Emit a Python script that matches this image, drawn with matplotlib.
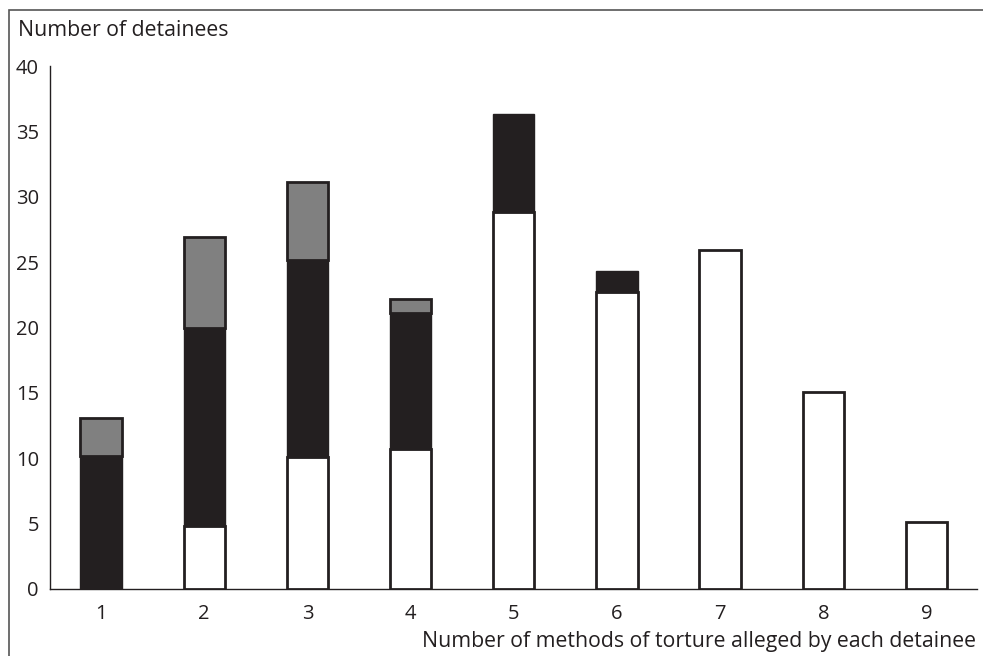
import numpy as np
import matplotlib.pyplot as plt
from matplotlib.patches import Rectangle

plt.rcParams['font.family'] = ['Open Sans', 'DejaVu Sans']

methods = [1, 2, 3, 4, 5, 6, 7, 8, 9]
white = [0, 4.8, 10.1, 10.7, 28.8, 22.7, 25.9, 15.1, 5.1]
black = [10.2, 15.2, 15.1, 10.4, 7.5, 1.6, 0, 0, 0]
gray = [2.9, 6.9, 5.9, 1.1, 0, 0, 0, 0, 0]
yticks = [0, 5, 10, 15, 20, 25, 30, 35, 40]

dark = '#231f20'
W, H = 983, 656
fig = plt.figure(figsize=(W / 100, H / 100), dpi=100)
ax = fig.add_axes([50 / W, 1 - 589 / H, (977 - 50) / W, (589 - 66) / H])

x = np.array(methods)
white = np.array(white)
black = np.array(black)
gray = np.array(gray)
bw = 0.40

m = white > 0
ax.bar(x[m], white[m], width=bw, color='white', edgecolor=dark, linewidth=2, zorder=3)
m = black > 0
ax.bar(x[m], black[m], bottom=white[m], width=bw, color=dark, edgecolor=dark, linewidth=1, zorder=3)
m = gray > 0
ax.bar(x[m], gray[m], bottom=(white + black)[m], width=bw, color='#808080', edgecolor=dark, linewidth=2, zorder=3)

ax.set_xlim(0.505, 9.49)
ax.set_ylim(0, 40)
ax.set_xticks(methods)
ax.set_yticks(yticks)
ax.tick_params(length=0, labelsize=14.5, colors='#231f20')
ax.tick_params(axis='x', pad=11)
ax.tick_params(axis='y', pad=8)
for s in ['top', 'right']:
    ax.spines[s].set_visible(False)
for s in ['left', 'bottom']:
    ax.spines[s].set_linewidth(1)
    ax.spines[s].set_color(dark)

fig.text(18 / W, 1 - 31 / H, 'Number of detainees', fontsize=15.3, color=dark, va='center', ha='left')
fig.text(976 / W, 1 - 642 / H, 'Number of methods of torture alleged by each detainee',
         fontsize=15.3, color=dark, va='center', ha='right')

fig.patches.append(Rectangle((9 / W, -0.01), 1.0, 1 - 10 / H + 0.01, transform=fig.transFigure,
                             fill=False, edgecolor='#555555', linewidth=1.2))

fig.savefig('out.png', dpi=100)
